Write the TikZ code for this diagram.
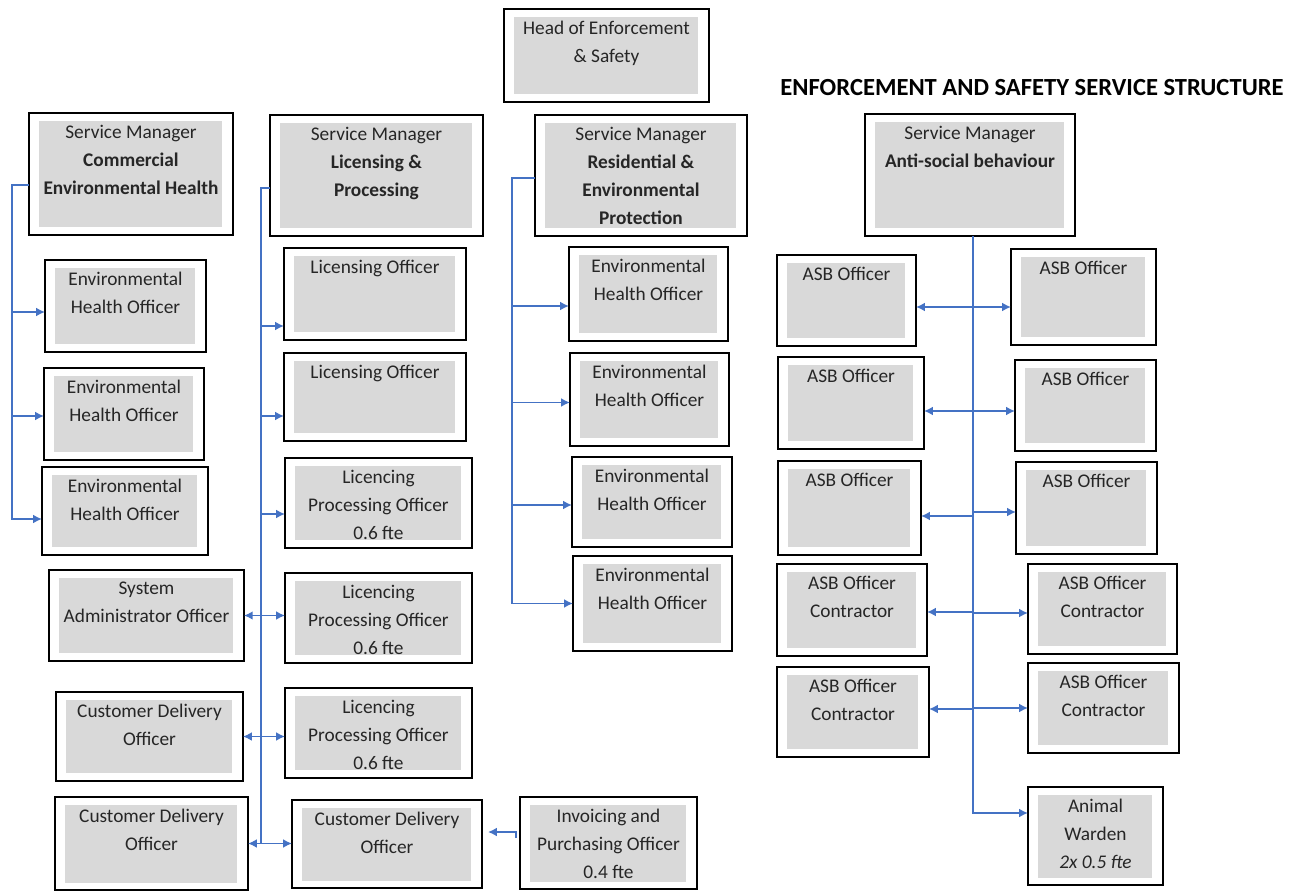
\documentclass[tikz,border=0pt]{standalone}
\usepackage{fontspec}
\setmainfont{Carlito}
\usetikzlibrary{arrows.meta}
\definecolor{boxgray}{HTML}{D9D9D9}
\definecolor{linkblue}{HTML}{4472C4}

\begin{document}
\begin{tikzpicture}[x=0.02cm,y=-0.02cm]
  \tikzstyle{box}=[draw, line width=0.8pt, fill=white, anchor=north west, inner sep=0pt, outer sep=0pt,
    path picture={\fill[boxgray] ([shift={(0.2cm,-0.15cm)}]path picture bounding box.north west)
      rectangle ([shift={(-0.22cm,0.15cm)}]path picture bounding box.south east);}]
  \tikzstyle{txt}=[anchor=north, yshift=-0.24cm, align=center, inner sep=0pt, text=black!85, font=\fontsize{11}{15.9}\selectfont]
  \tikzstyle{conn}=[draw=linkblue, line width=1pt]
  \tikzstyle{arr}=[conn, -{Latex[length=5pt,width=5pt]}]
  \tikzstyle{darr}=[conn, {Latex[length=5pt,width=5pt]}-{Latex[length=5pt,width=5pt]}]
  \useasboundingbox (0,0) rectangle (1304,893);

  \node[font=\fontsize{14}{16}\selectfont\bfseries] (title) at (1032,88) {ENFORCEMENT AND SAFETY SERVICE STRUCTURE};

  % heads
  \node[box, minimum width=4.10cm, minimum height=1.86cm, label={[txt]north:{Head of Enforcement\\\& Safety}}] (head) at (504,9) {};
  \node[box, minimum width=4.08cm, minimum height=2.44cm, label={[txt]north:{Service Manager\\\textbf{Commercial}\\\textbf{Environmental Health}}}] (smceh) at (29,113) {};
  \node[box, minimum width=4.26cm, minimum height=2.42cm, label={[txt]north:{Service Manager\\\textbf{Licensing \&}\\\textbf{Processing}}}] (smlp) at (270,115) {};
  \node[box, minimum width=4.24cm, minimum height=2.42cm, label={[txt]north:{Service Manager\\\textbf{Residential \&}\\\textbf{Environmental}\\\textbf{Protection}}}] (smrep) at (535,115) {};
  \node[box, minimum width=4.20cm, minimum height=2.44cm, label={[txt]north:{Service Manager\\\textbf{Anti-social behaviour}}}] (smasb) at (865,114) {};

  % commercial environmental health
  \node[box, minimum width=3.22cm, minimum height=1.84cm, label={[txt]north:{Environmental\\Health Officer}}] (eho1) at (45,260) {};
  \node[box, minimum width=3.20cm, minimum height=1.84cm, label={[txt]north:{Environmental\\Health Officer}}] (eho2) at (44,368) {};
  \node[box, minimum width=3.32cm, minimum height=1.76cm, label={[txt]north:{Environmental\\Health Officer}}] (eho3) at (42,467) {};
  \node[box, minimum width=3.90cm, minimum height=1.82cm, label={[txt]north:{System\\Administrator Officer}}] (sysadm) at (49,570) {};
  \node[box, minimum width=3.74cm, minimum height=1.78cm, label={[txt]north:{Customer Delivery\\Officer}}] (cdo1) at (56,692) {};
  \node[box, minimum width=3.86cm, minimum height=1.86cm, label={[txt]north:{Customer Delivery\\Officer}}] (cdo2) at (55,797) {};

  % licensing and processing
  \node[box, minimum width=3.64cm, minimum height=1.84cm, label={[txt]north:{Licensing Officer}}] (lo1) at (284,248) {};
  \node[box, minimum width=3.64cm, minimum height=1.76cm, label={[txt]north:{Licensing Officer}}] (lo2) at (284,353) {};
  \node[box, minimum width=3.74cm, minimum height=1.80cm, label={[txt]north:{Licencing\\Processing Officer\\0.6 fte}}] (lpo1) at (285,458) {};
  \node[box, minimum width=3.74cm, minimum height=1.80cm, label={[txt]north:{Licencing\\Processing Officer\\0.6 fte}}] (lpo2) at (285,573) {};
  \node[box, minimum width=3.74cm, minimum height=1.80cm, label={[txt]north:{Licencing\\Processing Officer\\0.6 fte}}] (lpo3) at (285,688) {};
  \node[box, minimum width=3.80cm, minimum height=1.76cm, label={[txt]north:{Customer Delivery\\Officer}}] (cdo3) at (292,800) {};
  \node[box, minimum width=3.54cm, minimum height=1.84cm, label={[txt]north:{Invoicing and\\Purchasing Officer\\0.4 fte}}] (inv) at (520,797) {};

  % residential and environmental protection
  \node[box, minimum width=3.18cm, minimum height=1.88cm, label={[txt]north:{Environmental\\Health Officer}}] (reho1) at (569,247) {};
  \node[box, minimum width=3.18cm, minimum height=1.86cm, label={[txt]north:{Environmental\\Health Officer}}] (reho2) at (570,353) {};
  \node[box, minimum width=3.20cm, minimum height=1.80cm, label={[txt]north:{Environmental\\Health Officer}}] (reho3) at (572,457) {};
  \node[box, minimum width=3.18cm, minimum height=1.90cm, label={[txt]north:{Environmental\\Health Officer}}] (reho4) at (573,556) {};

  % anti-social behaviour
  \node[box, minimum width=2.78cm, minimum height=1.82cm, label={[txt]north:{ASB Officer}}] (a1l) at (777,255) {};
  \node[box, minimum width=2.92cm, minimum height=1.84cm, label={[txt]north:{ASB Officer}}] (a2l) at (778,357) {};
  \node[box, minimum width=2.86cm, minimum height=1.88cm, label={[txt]north:{ASB Officer}}] (a3l) at (778,461) {};
  \node[box, minimum width=3.00cm, minimum height=1.84cm, label={[txt]north:{ASB Officer\\Contractor}}] (a4l) at (777,564) {};
  \node[box, minimum width=3.04cm, minimum height=1.80cm, label={[txt]north:{ASB Officer\\Contractor}}] (a5l) at (777,667) {};
  \node[box, minimum width=2.90cm, minimum height=1.92cm, label={[txt]north:{ASB Officer}}] (a1r) at (1011,249) {};
  \node[box, minimum width=2.82cm, minimum height=1.82cm, label={[txt]north:{ASB Officer}}] (a2r) at (1015,360) {};
  \node[box, minimum width=2.82cm, minimum height=1.84cm, label={[txt]north:{ASB Officer}}] (a3r) at (1016,462) {};
  \node[box, minimum width=2.98cm, minimum height=1.80cm, label={[txt]north:{ASB Officer\\Contractor}}] (a4r) at (1028,564) {};
  \node[box, minimum width=3.02cm, minimum height=1.80cm, label={[txt]north:{ASB Officer\\Contractor}}] (a5r) at (1028,663) {};
  \node[box, minimum width=2.70cm, minimum height=1.96cm, label={[txt]north:{Animal\\Warden\\\textit{2x 0.5 fte}}}] (aw) at (1028,787) {};

  % connectors: commercial
  \coordinate (ctrunk) at (12,185);
  \draw[arr] (smceh.west |- ctrunk) -- (ctrunk) |- ([yshift=-0.16cm]eho3.west);
  \foreach \n/\dy in {eho1/-0.12, eho2/-0.04} {
    \path ([yshift=\dy cm]\n.west) coordinate (tip);
    \draw[arr] (ctrunk |- tip) -- (tip);
  }

  % connectors: licensing
  \coordinate (ltrunk) at (261,188);
  \draw[conn] (smlp.west |- ltrunk) -- (ltrunk) -- (ltrunk |- cdo2.east);
  \foreach \n/\dy in {lo1/-0.64, lo2/-0.38, lpo1/-0.22} {
    \path ([yshift=\dy cm]\n.west) coordinate (tip);
    \draw[arr] (ltrunk |- tip) -- (tip);
  }
  \draw[darr] (sysadm.east) -- (sysadm.east -| lpo2.west);
  \draw[darr] (cdo1.east) -- (cdo1.east -| lpo3.west);
  \draw[darr] (cdo2.east) -- (cdo2.east -| cdo3.west);
  \draw[arr] ([shift={(-0.08cm,0.1cm)}]inv.west) |- ([shift={(0.12cm,0.24cm)}]cdo3.east);

  % connectors: residential
  \coordinate (rtrunk) at (512,178);
  \draw[arr] (smrep.west |- rtrunk) -- (rtrunk) |- (reho4.west);
  \foreach \n/\dy in {reho1/-0.24, reho2/-0.06, reho3/-0.06} {
    \path ([yshift=\dy cm]\n.west) coordinate (tip);
    \draw[arr] (rtrunk |- tip) -- (tip);
  }

  % connectors: anti-social behaviour
  \coordinate (atrunk) at ([xshift=0.06cm]smasb.south);
  \draw[arr, line width=1.3pt] (atrunk) |- ([yshift=0.46cm]aw.west);
  \foreach \n/\dy in {a1l/-0.13, a2l/-0.16, a3l/-0.16, a4l/-0.04, a5l/0.06} {
    \path ([yshift=\dy cm]\n.east) coordinate (tip);
    \draw[arr] (atrunk |- tip) -- (tip);
  }
  \foreach \n/\dy in {a1r/-0.2, a2r/-0.11, a3r/-0.08, a4r/-0.08, a5r/0} {
    \path ([yshift=\dy cm]\n.west) coordinate (tip);
    \draw[arr] (atrunk |- tip) -- (tip);
  }
\end{tikzpicture}
\end{document}
